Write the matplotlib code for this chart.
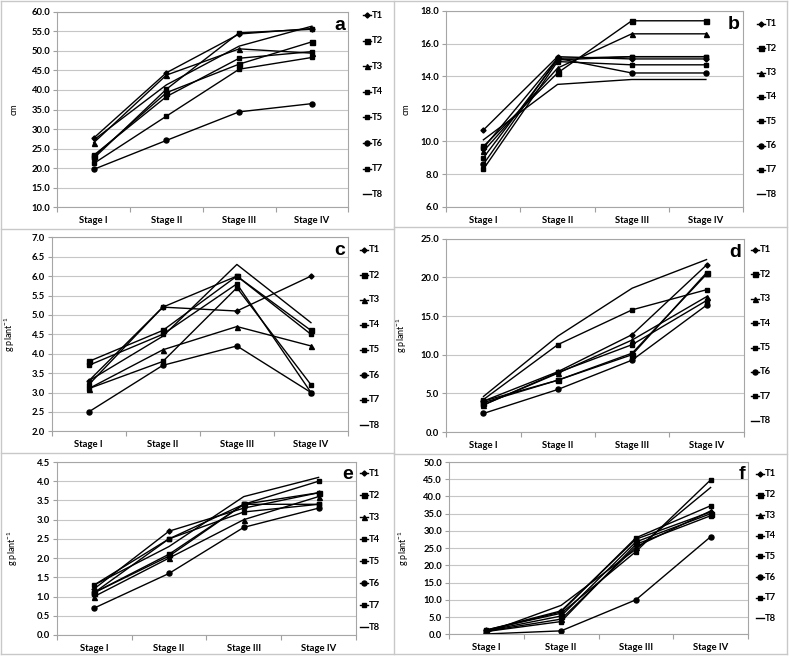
import numpy as np
import matplotlib
matplotlib.use('Agg')
import matplotlib.pyplot as plt
from matplotlib.lines import Line2D
from matplotlib.ticker import FormatStrFormatter

plt.rcParams['font.family'] = ['Lato', 'DejaVu Sans']
plt.rcParams['mathtext.fontset'] = 'custom'
plt.rcParams['mathtext.rm'] = 'Lato'

W, H = 789, 656

stages = ['Stage I', 'Stage II', 'Stage III', 'Stage IV']
treatments = ['T1', 'T2', 'T3', 'T4', 'T5', 'T6', 'T7', 'T8']

# values, one row per treatment (T1..T8)
vals_a = [[27.7, 44.4, 54.3, 55.7],
          [23.0, 39.3, 46.6, 52.3],
          [26.5, 43.8, 50.5, 49.4],
          [23.3, 38.3, 48.1, 49.8],
          [21.2, 33.3, 45.3, 48.3],
          [19.7, 27.1, 34.4, 36.5],
          [22.5, 40.2, 54.6, 55.5],
          [27.2, 41.3, 51.2, 56.3]]
vals_b = [[10.7, 15.2, 15.06, 15.06],
          [9.7, 14.2, 17.4, 17.4],
          [9.4, 14.5, 16.6, 16.6],
          [9.0, 15.0, 15.2, 15.2],
          [8.3, 14.9, 14.7, 14.7],
          [8.6, 15.1, 14.2, 14.2],
          [9.6, 15.1, 15.2, 15.2],
          [10.1, 13.5, 13.8, 13.8]]
vals_c = [[3.3, 5.2, 5.1, 6.0],
          [3.8, 4.6, 6.0, 4.6],
          [3.1, 4.1, 4.7, 4.2],
          [3.7, 4.5, 5.8, 3.0],
          [3.2, 5.2, 6.0, 4.5],
          [2.5, 3.7, 4.2, 3.0],
          [3.1, 3.8, 5.7, 3.2],
          [3.3, 4.45, 6.3, 4.8]]
vals_d = [[4.0, 7.8, 12.6, 21.6],
          [3.8, 6.7, 10.0, 20.6],
          [3.5, 7.6, 11.9, 17.5],
          [4.0, 6.7, 10.2, 20.4],
          [3.5, 7.7, 11.3, 17.0],
          [2.4, 5.5, 9.3, 16.4],
          [4.2, 11.3, 15.8, 18.4],
          [4.6, 12.4, 18.6, 22.3]]
vals_e = [[1.2, 2.7, 3.3, 3.7],
          [1.1, 2.1, 3.4, 3.7],
          [1.0, 2.0, 3.0, 3.6],
          [1.1, 2.5, 3.4, 3.4],
          [1.3, 2.5, 3.2, 3.4],
          [0.7, 1.6, 2.8, 3.3],
          [1.1, 2.05, 3.4, 4.0],
          [1.3, 2.3, 3.6, 4.1]]
vals_f = [[1.2, 6.8, 27.6, 35.5],
          [1.0, 5.3, 26.8, 35.0],
          [0.9, 4.4, 25.4, 35.8],
          [1.3, 6.1, 24.0, 44.8],
          [0.8, 3.7, 26.1, 34.4],
          [0.1, 1.0, 10.0, 28.3],
          [1.1, 6.5, 28.0, 37.3],
          [0.5, 8.4, 24.7, 42.6]]

markers = ['D', 's', '^', 's', 's', 'o', 's', None]
msizes = [2.6, 3.6, 3.6, 2.6, 2.6, 3.6, 2.6, 0]

def box(l, t, r, b):
    return [l / W, 1 - b / H, (r - l) / W, (b - t) / H]

# letter, data, ylim, ystep, ylabel, plot box (px), ylabel x, legend x, legend first y, legend step
panels = [
    ('a', vals_a, (10, 60), 5, 'cm', (57.3, 11.7, 348.3, 207.3), 19, 363, 15, 25.6),
    ('b', vals_b, (6, 18), 2, 'cm', (446.3, 11, 743, 206.7), 411, 757, 24, 24.3),
    ('c', vals_c, (2, 7), 0.5, 'g plant$^{-1}$', (51.7, 237.3, 348, 431.3), 17, 360, 250, 25.0),
    ('d', vals_d, (0, 25), 5, 'g plant$^{-1}$', (446.3, 238.7, 743.7, 432), 409, 751, 250, 24.4),
    ('e', vals_e, (0, 4.5), 0.5, 'g plant$^{-1}$', (56.7, 462, 356, 635), 20, 360, 473, 22.0),
    ('f', vals_f, (0, 50), 5, 'g plant$^{-1}$', (449, 462, 748, 634.3), 411, 756, 474, 20.6),
]

fig = plt.figure(figsize=(W / 100, H / 100), dpi=100)

grid_c = '#c6c6c6'
x = np.arange(len(stages)) + 0.5

for letter, vals, ylim, step, ylab, pb, yl_x, lx, ly, lstep in panels:
    ax = fig.add_axes(box(*pb))
    for i, t in enumerate(treatments):
        ax.plot(x, vals[i], color='black', lw=1.0, marker=markers[i], ms=msizes[i], label=t)
    ax.set_xlim(0, len(stages))
    ax.set_ylim(*ylim)
    ax.set_yticks(np.arange(ylim[0], ylim[1] + step / 2, step))
    ax.yaxis.set_major_formatter(FormatStrFormatter('%.1f'))
    ax.set_xticks(np.arange(len(stages) + 1))
    ax.set_xticklabels([])
    ax.set_xticks(x, minor=True)
    ax.set_xticklabels(stages, minor=True)
    ax.tick_params(axis='x', which='major', length=3.5, color='#a0a0a0', direction='out')
    ax.tick_params(axis='x', which='minor', length=0, pad=6.5)
    ax.tick_params(axis='y', length=3, color='#a0a0a0', pad=2)
    for lab in ax.get_xticklabels(minor=True) + ax.get_yticklabels():
        lab.set_fontsize(6.8)
        lab.set_fontweight('bold')
    ax.grid(axis='y', color=grid_c, lw=0.8)
    ax.set_axisbelow(True)
    for s in ax.spines.values():
        s.set_color('#a6a6a6')
        s.set_linewidth(0.8)
    ax.set_ylabel(ylab, fontsize=6.5)
    ax.yaxis.set_label_coords((yl_x - pb[0]) / (pb[2] - pb[0]), 0.5)
    ax.text(0.99, 0.975, letter, transform=ax.transAxes, ha='right', va='top',
            fontsize=14, fontweight='bold', family='Liberation Sans')

    # legend entries on the right, marker in the middle of a short line
    for i, t in enumerate(treatments):
        yy = 1 - (ly + i * lstep) / H
        fig.add_artist(Line2D([lx / W, (lx + 4) / W, (lx + 8) / W], [yy, yy, yy],
                              color='black', lw=1.0, marker=markers[i],
                              ms=msizes[i], markevery=[1]))
        fig.text((lx + 9) / W, yy, t, fontsize=6.8, fontweight='bold', va='center')

# cell borders around the panels
bc = '#c8c8c8'
for (x0, y0, x1, y1) in [(1, 1, 787, 1), (1, 654, 787, 654), (1, 1, 1, 654), (787, 1, 787, 654),
                         (394, 1, 394, 654), (1, 229, 394, 229), (1, 453, 394, 453),
                         (394, 227, 787, 227), (394, 454, 787, 454)]:
    fig.add_artist(Line2D([x0 / W, x1 / W], [1 - y0 / H, 1 - y1 / H], color=bc, lw=1))

fig.savefig('out.png', dpi=100)
